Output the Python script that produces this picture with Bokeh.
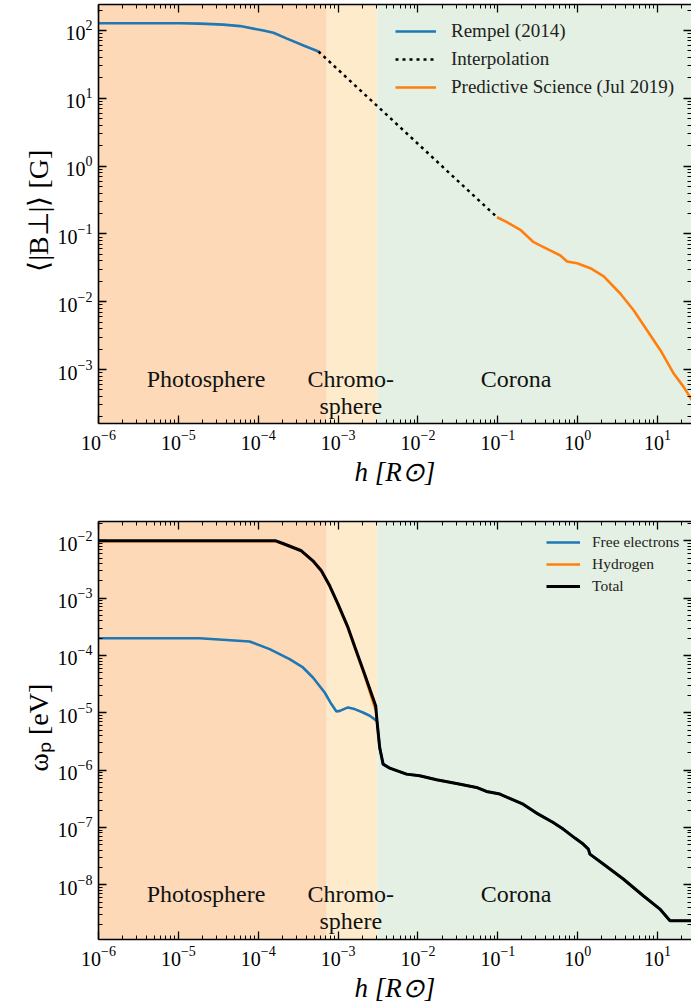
from bokeh.plotting import figure
from bokeh.models import (BoxAnnotation, FixedTicker, Legend, LegendItem, LogAxis,
                          AllLabels, CustomJSTickFormatter, Title)
from bokeh.layouts import column
from bokeh.embed import file_html
from bokeh.resources import INLINE
from bokeh.core.properties import value

SERIF = "Liberation Serif"

# ---------------------------------------------------------------- data
# Atmospheric layers, height above the photosphere in solar radii
layer_left = [None, 7.2e-4, 3.1e-3]
layer_right = [7.2e-4, 3.1e-3, None]
layer_colors = ["#FDD9B8", "#FEEBCC", "#E4F0E3"]
layer_labels = ["Photosphere", "Chromo-\nsphere", "Corona"]
layer_label_h = [2.22e-5, 1.44e-3, 0.169]

# Mean transverse magnetic field <|B_perp|> [G]
rempel_h = [1.0e-6, 1.05e-5, 1.86e-5, 3.66e-5, 5.93e-5, 1.16e-4, 1.55e-4,
            2.29e-4, 3.69e-4, 5.68e-4]
rempel_b = [128, 128, 126, 122, 116, 100, 92.5, 75.9, 60.1, 49.0]

interp_h = [5.68e-4, 9.77e-2]
interp_b = [49.0, 0.176]

psi_h = [9.77e-2, 0.130, 0.191, 0.281, 0.413, 0.607, 0.736, 0.982, 1.44,
         2.12, 3.43, 5.04, 7.41, 10.9, 16.0, 21.3, 26.6, 30.0]
psi_b = [0.176, 0.149, 0.115, 0.0755, 0.0603, 0.048, 0.0392, 0.037, 0.0312,
         0.0236, 0.0131, 7.41e-3, 3.76e-3, 1.91e-3, 8.65e-4, 5.5e-4, 3.63e-4,
         2.9e-4]

# Plasma frequency omega_p [eV]
# lower atmosphere, hydrogen dominated total
low_h = [1.0e-6, 1.66e-4, 2.04e-4, 3.47e-4, 4.84e-4, 6.18e-4, 7.85e-4,
         9.98e-4, 1.33e-3, 1.69e-3, 2.15e-3, 2.96e-3]
total_low_wp = [1.0e-2, 1.0e-2, 8.97e-3, 6.7e-3, 4.48e-3, 3.0e-3, 1.64e-3,
                7.85e-4, 3.08e-4, 1.2e-4, 4.72e-5, 1.31e-5]
hydrogen_wp = [9.8e-3, 9.8e-3, 8.8e-3, 6.6e-3, 4.4e-3, 2.95e-3, 1.6e-3,
               7.7e-4, 3.0e-4, 1.15e-4, 4.4e-5, 1.1e-5]

# free electrons below the corona
elec_low_h = [1.0e-6, 1.84e-5, 7.8e-5, 1.39e-4, 2.47e-4, 3.63e-4, 4.84e-4,
              6.79e-4, 8.24e-4, 9.53e-4, 1.05e-3, 1.33e-3, 1.61e-3, 2.05e-3,
              2.49e-3, 2.96e-3]
elec_low_wp = [2.0e-4, 2.0e-4, 1.75e-4, 1.29e-4, 8.63e-5, 6.17e-5, 4.13e-5,
               2.26e-5, 1.42e-5, 1.05e-5, 1.08e-5, 1.24e-5, 1.16e-5, 1.01e-5,
               8.87e-6, 7.45e-6]

# fully ionised corona: free electrons are the total
corona_h = [3.07e-3, 3.32e-3, 3.66e-3, 4.44e-3, 7.18e-3, 1.05e-2, 1.71e-2,
            3.03e-2, 5.41e-2, 7.21e-2, 0.106, 0.141, 0.207, 0.305, 0.493,
            0.658, 0.923, 1.17, 1.36, 1.42, 2.09, 3.72, 6.62, 10.7, 14.3, 30.0]
corona_wp = [7.16e-6, 2.45e-6, 1.27e-6, 1.08e-6, 8.51e-7, 7.96e-7, 6.78e-7,
             5.85e-7, 4.98e-7, 4.24e-7, 3.82e-7, 3.2e-7, 2.55e-7, 1.78e-7,
             1.22e-7, 9.35e-8, 6.52e-8, 5.13e-8, 4.19e-8, 3.43e-8, 2.3e-8,
             1.26e-8, 6.43e-9, 3.77e-9, 2.36e-9, 2.36e-9]

# ---------------------------------------------------------------- style
X_RANGE = (1e-6, 26.6)
FRAME_W = 593
LEFT = 98
BLUE, ORANGE = "#1f77b4", "#ff7f0e"


def decade_ticks(lo_exp, hi_exp):
    majors = [10.0 ** k for k in range(lo_exp, hi_exp + 1)]
    minors = [m * 10.0 ** k for k in range(lo_exp - 1, hi_exp + 1)
              for m in range(2, 10)]
    return FixedTicker(ticks=majors, minor_ticks=minors)


def style_axis(ax, labels=True):
    ax.axis_line_color = "black"
    ax.axis_line_width = 1.6
    ax.major_tick_in = 8
    ax.major_tick_out = 0
    ax.minor_tick_in = 4
    ax.minor_tick_out = 0
    ax.major_tick_line_width = 1.3
    ax.minor_tick_line_width = 1.0
    ax.major_tick_line_color = "black"
    ax.minor_tick_line_color = "black"
    ax.major_label_policy = AllLabels()
    if labels:
        ax.major_label_text_font = SERIF
        ax.major_label_text_font_size = "20px"
        ax.major_label_text_color = "black"
        ax.major_label_standoff = 6
        ax.axis_label_text_font = SERIF
        ax.axis_label_text_font_size = "27px"
        ax.axis_label_text_font_style = "italic"
        ax.axis_label_text_color = "black"
        ax.axis_label_standoff = 4
    else:
        # mirror axis: ticks only
        ax.formatter = CustomJSTickFormatter(code="return ''")
        ax.major_label_text_font_size = "1px"
        ax.major_label_standoff = 0


def panel(y_range, y_exps, frame_h, top, bottom, ylabel, ylabel_offset,
          label_y):
    p = figure(frame_width=FRAME_W, frame_height=frame_h,
               x_axis_type="log", y_axis_type="log",
               x_range=X_RANGE, y_range=y_range,
               min_border_left=LEFT, min_border_right=0,
               min_border_top=top, min_border_bottom=bottom,
               output_backend="svg", toolbar_location=None)
    p.outline_line_color = None
    p.xgrid.visible = False
    p.ygrid.visible = False
    p.background_fill_color = "white"
    p.border_fill_color = "white"

    xt = decade_ticks(-6, 1)
    yt = decade_ticks(*y_exps)
    p.xaxis.ticker = xt
    p.yaxis.ticker = yt
    style_axis(p.xaxis[0])
    style_axis(p.yaxis[0])
    p.xaxis.axis_label = "h [R⊙]"

    # vertical axis title, anchored at its first character
    p.add_layout(Title(text=ylabel, align="left", offset=ylabel_offset,
                       standoff=2, text_font=SERIF, text_font_size="28px",
                       text_font_style="normal", text_color="black"), "left")

    top_ax = LogAxis(ticker=xt)
    style_axis(top_ax, labels=False)
    p.add_layout(top_ax, "above")
    right_ax = LogAxis(ticker=yt)
    style_axis(right_ax, labels=False)
    right_ax.axis_line_color = None
    p.add_layout(right_ax, "right")

    for l, r, c in zip(layer_left, layer_right, layer_colors):
        p.add_layout(BoxAnnotation(left=l, right=r, fill_color=c, fill_alpha=1,
                                   line_color=None, level="underlay"))
    p.text(x=layer_label_h, y=[label_y] * 3, text=layer_labels,
           text_align="center", text_baseline="top",
           text_font=value(SERIF), text_font_size="24px",
           text_color="#111111", text_line_height=1.03)
    return p


# ---------------------------------------------------------------- top panel
p1 = panel((1.6e-4, 241.5), (-3, 2), 419, 4, 82, "⟨|B⊥|⟩ [G]", 152,
           1.13e-3)
r_rem = p1.line(rempel_h, rempel_b, line_color=BLUE, line_width=2.6)
r_int = p1.line(interp_h, interp_b, line_color="black", line_width=2.5,
                line_dash="3 4")
r_psi = p1.line(psi_h, psi_b, line_color=ORANGE, line_width=2.6)
leg1 = Legend(items=[LegendItem(label="Rempel (2014)", renderers=[r_rem]),
                     LegendItem(label="Interpolation", renderers=[r_int]),
                     LegendItem(label="Predictive Science (Jul 2019)",
                                renderers=[r_psi])],
              location=(297, 322), padding=0, margin=0, spacing=0,
              glyph_width=41, glyph_height=28, label_height=28,
              label_standoff=15, border_line_color=None,
              background_fill_alpha=0, label_text_font=SERIF,
              label_text_font_size="19px", label_text_color="#222222")
p1.add_layout(leg1, "center")

# ---------------------------------------------------------------- bottom panel
p2 = panel((1.11e-9, 2.17e-2), (-8, -2), 418, 16, 62, "ωₚ [eV]", 168,
           1.15e-8)
r_el = p2.line(elec_low_h + corona_h, elec_low_wp + corona_wp,
               line_color=BLUE, line_width=2.6)
r_h = p2.line(low_h, hydrogen_wp, line_color=ORANGE, line_width=2.6)
r_tot = p2.line(low_h + corona_h, total_low_wp + corona_wp,
                line_color="black", line_width=3)
leg2 = Legend(items=[LegendItem(label="Free electrons", renderers=[r_el]),
                     LegendItem(label="Hydrogen", renderers=[r_h]),
                     LegendItem(label="Total", renderers=[r_tot])],
              location=(448, 342), padding=0, margin=0, spacing=0,
              glyph_width=34, glyph_height=22, label_height=22,
              label_standoff=12, border_line_color=None,
              background_fill_alpha=0, label_text_font=SERIF,
              label_text_font_size="15.5px", label_text_color="#222222")
p2.add_layout(leg2, "center")

layout = column(p1, p2, spacing=0)
open("out.html", "w").write(file_html(layout, INLINE))
